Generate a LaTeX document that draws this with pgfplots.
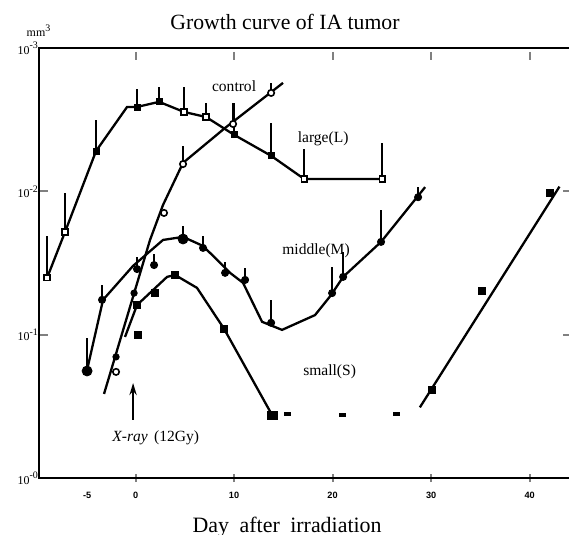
\documentclass[border=0pt]{standalone}
\usepackage{fontspec}
\setmainfont{Liberation Serif}
\setsansfont{Liberation Sans}
\usepackage{pgfplots}
\pgfplotsset{compat=1.18}
\usepackage{pgfplotstable}
\usetikzlibrary{arrows.meta}

% large(L): filled and open squares, upper end of the SD bar in "top"
\pgfplotstableread{
x y top
-4.01 191 314
0.15 388 518
2.39 421 536
10.0 248 415
13.76 177 301
}\largeFilled
\pgfplotstableread{
x y top
-8.98 24.9 48.9
-7.16 52 97.3
4.92 358 535
7.16 330 413
17.11 122 198
25.03 122 218
}\largeHollow
\pgfplotstableread{
x y
-8.98 24.9
-7.16 52
-4.01 191
-0.86 388
0.15 388
2.39 421
4.92 358
7.16 330
10.0 248
13.76 177
17.11 122
25.03 122
}\largeCurve

% middle(M): filled circles
\pgfplotstableread{
x y top
-3.40 17.5 22.3
0.15 28.7 34.8
1.88 30.6 36.5
6.85 40.3 48.8
9.09 27 32.2
11.12 24.1 29.2
13.76 12.1 17.5
19.95 19.5 29.6
21.07 25.3 37.8
24.92 44.4 74.2
28.68 91 107
}\middleMarks
\pgfplotstableread{
x y top
-4.92 5.58 9.48
4.82 46.5 57.3
}\middleBig
\pgfplotstableread{
x y
-4.92 5.67
-3.30 17.5
-0.25 30.2
2.79 45.8
4.82 48.1
6.85 41.6
9.59 27
10.91 23
12.84 12.3
14.87 10.8
18.22 13.7
19.85 18.9
21.07 25.3
24.92 44.4
29.39 107
}\middleCurve

% control: open circles
\pgfplotstableread{
x y top
-1.98 5.5 5.5
2.89 70.7 70.7
4.82 155 207
9.90 295 413
13.76 486 571
}\controlMarks
\pgfplotstableread{
x y
-1.98 7.0
-0.15 19.5
}\controlFilled
\pgfplotstableread{
x y
-3.20 3.86
1.47 45.8
2.79 80.4
4.82 158
9.09 277
14.97 571
}\controlCurve

% small(S): filled squares
\pgfplotstableread{
x y
0.15 16.1
0.25 10.0
1.98 19.5
4.01 26.1
8.98 11.0
30.10 4.1
35.18 20.2
42.08 97.5
}\smallMarks
\pgfplotstableread{
x y
15.38 2.8
20.96 2.75
26.45 2.8
}\smallDots
\pgfplotstableread{
x y
-1.07 9.64
0.15 16.1
3.20 25.3
4.01 26.1
6.24 21.2
8.98 11.0
13.86 2.75
}\smallCurveA
\pgfplotstableread{
x y
28.86 3.11
43.03 107.9
}\smallCurveB

\begin{document}
\begin{tikzpicture}
% the frame runs on past the right edge of the page, so its right side is cut off
\useasboundingbox (-19.5bp,-28.5bp) rectangle (265bp,239bp);
\begin{axis}[
  at={(0,0)}, anchor=south west,
  scale only axis, width=266.5bp, height=215bp,
  ymode=log, xmin=-9.80, xmax=44.30, ymin=1, ymax=1000,
  clip=false,
  axis line style={line width=1.3bp},
  xtick style={line width=1bp, yshift=-2bp},
  ytick style={line width=1bp},
  yminorticks=false, xminorticks=false,
  xtick={0,10,20,30,40},
  xticklabels={0,10,20,30,40},
  xticklabel style={font=\fontsize{4.6}{5}\selectfont\sffamily\bfseries, anchor=base, yshift=-10bp},
  ytick={1,10,100,1000},
  yticklabels={10\textsuperscript{-0},10\textsuperscript{-1},10\textsuperscript{-2},10\textsuperscript{-3}},
  yticklabel style={font=\fontsize{6}{7}\selectfont, anchor=base east, xshift=3.5bp, yshift=-3bp},
  error bars/error bar style={line width=1bp},
]
% fitted curves
\addplot[line width=1.15bp, no marks] table {\largeCurve};
\addplot[line width=1.15bp, no marks] table {\middleCurve};
\addplot[line width=1.15bp, no marks] table {\controlCurve};
\addplot[line width=1.15bp, no marks] table {\smallCurveA};
\addplot[line width=1.15bp, no marks] table {\smallCurveB};

% measured means with upward SD bars
\addplot[only marks, mark=square*, mark size=1.5bp,
  error bars/.cd, y dir=plus, y explicit, error mark=none]
  table[x=x, y=y, y error plus expr=\thisrow{top}-\thisrow{y}] {\largeFilled};
\addplot[only marks, mark=square*, mark size=1.4bp, mark options={fill=white, line width=0.8bp},
  error bars/.cd, y dir=plus, y explicit, error mark=none]
  table[x=x, y=y, y error plus expr=\thisrow{top}-\thisrow{y}] {\largeHollow};
\addplot[only marks, mark=*, mark size=1.8bp,
  error bars/.cd, y dir=plus, y explicit, error mark=none]
  table[x=x, y=y, y error plus expr=\thisrow{top}-\thisrow{y}] {\middleMarks};
\addplot[only marks, mark=*, mark size=2.5bp,
  error bars/.cd, y dir=plus, y explicit, error mark=none]
  table[x=x, y=y, y error plus expr=\thisrow{top}-\thisrow{y}] {\middleBig};
\addplot[only marks, mark=*, mark size=1.6bp, mark options={fill=white, line width=0.8bp},
  error bars/.cd, y dir=plus, y explicit, error mark=none]
  table[x=x, y=y, y error plus expr=\thisrow{top}-\thisrow{y}] {\controlMarks};
\addplot[only marks, mark=*, mark size=1.6bp] table {\controlFilled};
\addplot[only marks, mark=square*, mark size=1.8bp] table {\smallMarks};
\addplot[only marks, mark=square*, mark size=2.6bp, mark options={yscale=0.75}] coordinates {(13.86,2.75)};
\addplot[only marks, mark=square*, mark size=1.1bp, mark options={xscale=1.3, yscale=0.75}] table {\smallDots};

% labels
\node[anchor=base, font=\fontsize{4.6}{5}\selectfont\sffamily\bfseries] at (axis cs:-4.92,1) [yshift=-10bp] {-5};
\node[anchor=base, font=\fontsize{7.8}{9}\selectfont] at (axis cs:10.0,494) {control};
\node[anchor=base, font=\fontsize{7.8}{9}\selectfont] at (axis cs:19.04,218) {large(L)};
\node[anchor=base, font=\fontsize{7.8}{9}\selectfont] at (axis cs:18.32,36) {middle(M)};
\node[anchor=base, font=\fontsize{7.8}{9}\selectfont] at (axis cs:19.7,5.23) {small(S)};
\draw[line width=1.2bp, -{Stealth[length=6bp,width=3.6bp]}] (axis cs:-0.25,2.54) -- (axis cs:-0.25,4.6);
\node[anchor=base west, font=\fontsize{7.8}{9}\selectfont, inner sep=0pt] at (axis cs:-2.38,1.81) {\textit{X-ray}\hspace{0.4em}(12Gy)};

\node[anchor=base, font=\fontsize{10.9}{12}\selectfont] at (rel axis cs:0.4615,1.0419) {Growth curve of IA tumor};
\node[anchor=base, font=\fontsize{11}{12}\selectfont] at (rel axis cs:0.4655,-0.1256) {Day\hspace{0.48em}after\hspace{0.48em}irradiation};
\node[anchor=base, font=\fontsize{6}{7}\selectfont, inner sep=0pt] at (rel axis cs:0.0,1.026) {mm\textsuperscript{3}};
\end{axis}
\end{tikzpicture}
\end{document}
